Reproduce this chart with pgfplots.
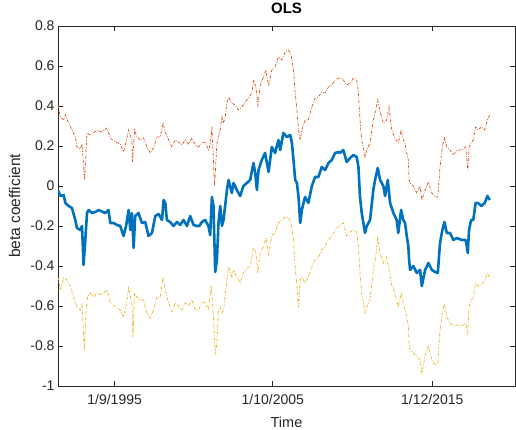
\documentclass[border=0pt]{standalone}
\usepackage{pgfplots}
\pgfplotsset{compat=1.18}
\usepackage{fontspec}
\setmainfont{Liberation Sans}
\definecolor{mblue}{rgb}{0,0.447,0.741}
\definecolor{morange}{rgb}{0.85,0.325,0.098}
\definecolor{myellow}{rgb}{0.929,0.694,0.125}
\definecolor{maxis}{rgb}{0.15,0.15,0.15}
\begin{document}
\begin{tikzpicture}
\begin{axis}[
  at={(58pt,44pt)}, anchor=south west,
  width=457pt, height=360pt, scale only axis,
  xmin=1992.06, xmax=2021.19, ymin=-1, ymax=0.8,
  xtick={1995.67,2005.75,2015.92},
  xticklabels={1/9/1995,1/10/2005,1/12/2015},
  ytick={-1,-0.8,-0.6,-0.4,-0.2,0,0.2,0.4,0.6,0.8},
  yticklabels={-1,-0.8,-0.6,-0.4,-0.2,0,0.2,0.4,0.6,0.8},
  /pgf/number format/assume math mode=true,
  tick align=inside, tick pos=both,
  major tick length=5pt,
  axis line style={draw=maxis, line width=0.6pt},
  tick style={draw=maxis, line width=0.6pt},
  tick label style={font=\fontsize{14}{16}\selectfont, text=maxis},
  xticklabel style={yshift=-5pt},
  title={\textbf{OLS}},
  title style={font=\fontsize{15}{17}\selectfont, at={(axis description cs:0.5,1.031)}, anchor=center},
  xlabel={Time},
  xlabel style={font=\fontsize{14.5}{16}\selectfont, text=maxis, at={(axis description cs:0.5,-0.1)}, anchor=center},
  ylabel={beta coefficient},
  ylabel style={font=\fontsize{15.5}{17}\selectfont, text=maxis, at={(axis description cs:-0.095,0.5)}, anchor=center, rotate=0},
]
\addplot[morange, line width=0.7pt, dash pattern=on 3pt off 1.5pt on 0.8pt off 1.5pt] coordinates {
(1992.06,0.405)(1992.21,0.345)(1992.42,0.33)(1992.53,0.355)(1992.74,0.315)(1992.95,0.28)(1993.16,0.245)(1993.27,0.195)(1993.48,0.185)(1993.59,0.21)(1993.76,0.03)(1993.84,0.165)(1993.91,0.265)(1994.12,0.255)(1994.33,0.265)(1994.54,0.28)(1994.86,0.27)(1995.18,0.29)(1995.39,0.24)(1995.71,0.22)(1996.03,0.21)(1996.24,0.17)(1996.40,0.22)(1996.56,0.28)(1996.77,0.23)(1996.81,0.12)(1996.94,0.28)(1997.09,0.245)(1997.30,0.23)(1997.51,0.24)(1997.73,0.195)(1997.94,0.165)(1998.15,0.19)(1998.37,0.245)(1998.58,0.245)(1998.75,0.315)(1998.90,0.27)(1999.11,0.23)(1999.32,0.195)(1999.53,0.23)(1999.74,0.22)(1999.96,0.205)(2000.17,0.23)(2000.38,0.21)(2000.60,0.24)(2000.81,0.205)(2001.02,0.195)(2001.23,0.215)(2001.44,0.22)(2001.65,0.18)(2001.76,0.205)(2001.87,0.295)(2002.04,0.0)(2002.19,0.215)(2002.29,0.245)(2002.40,0.28)(2002.51,0.345)(2002.61,0.315)(2002.72,0.345)(2002.83,0.42)(2002.93,0.445)(2003.14,0.415)(2003.35,0.405)(2003.56,0.38)(2003.78,0.395)(2003.99,0.42)(2004.20,0.44)(2004.42,0.465)(2004.52,0.53)(2004.67,0.495)(2004.80,0.405)(2004.95,0.505)(2005.16,0.545)(2005.31,0.58)(2005.48,0.50)(2005.69,0.58)(2005.90,0.595)(2006.11,0.645)(2006.33,0.63)(2006.54,0.67)(2006.75,0.68)(2006.92,0.655)(2007.07,0.58)(2007.18,0.465)(2007.29,0.38)(2007.39,0.28)(2007.50,0.23)(2007.60,0.28)(2007.81,0.33)(2008.02,0.33)(2008.24,0.395)(2008.45,0.44)(2008.66,0.445)(2008.87,0.47)(2009.09,0.465)(2009.30,0.495)(2009.51,0.505)(2009.72,0.53)(2009.97,0.54)(2010.04,0.54)(2010.25,0.53)(2010.46,0.505)(2010.68,0.515)(2010.89,0.54)(2011.10,0.53)(2011.21,0.465)(2011.31,0.33)(2011.42,0.23)(2011.63,0.145)(2011.74,0.18)(2011.95,0.215)(2012.16,0.33)(2012.31,0.38)(2012.44,0.43)(2012.59,0.37)(2012.80,0.315)(2013.01,0.33)(2013.16,0.395)(2013.33,0.28)(2013.54,0.24)(2013.75,0.215)(2013.93,0.28)(2014.07,0.23)(2014.18,0.215)(2014.29,0.165)(2014.39,0.13)(2014.44,0.03)(2014.50,0.015)(2014.71,0.0)(2014.93,-0.035)(2015.14,0.0)(2015.25,-0.07)(2015.46,-0.02)(2015.67,0.02)(2015.89,-0.035)(2016.10,-0.055)(2016.27,-0.055)(2016.41,0.095)(2016.56,0.195)(2016.69,0.24)(2016.84,0.195)(2017.05,0.18)(2017.26,0.155)(2017.48,0.18)(2017.80,0.18)(2018.05,0.195)(2018.18,0.08)(2018.26,0.195)(2018.39,0.215)(2018.53,0.23)(2018.68,0.295)(2018.83,0.28)(2019.05,0.295)(2019.26,0.28)(2019.43,0.33)(2019.58,0.355)
};
\addplot[mblue, line width=2.6pt, line join=round] coordinates {
(1992.06,-0.02)(1992.21,-0.05)(1992.42,-0.045)(1992.53,-0.085)(1992.74,-0.10)(1992.95,-0.11)(1993.16,-0.17)(1993.27,-0.21)(1993.48,-0.22)(1993.59,-0.20)(1993.69,-0.395)(1993.80,-0.27)(1993.91,-0.135)(1994.01,-0.12)(1994.23,-0.135)(1994.44,-0.13)(1994.65,-0.12)(1995.07,-0.135)(1995.28,-0.12)(1995.39,-0.185)(1995.60,-0.185)(1995.82,-0.195)(1996.03,-0.20)(1996.24,-0.25)(1996.40,-0.20)(1996.56,-0.12)(1996.67,-0.22)(1996.77,-0.135)(1996.88,-0.31)(1996.98,-0.15)(1997.19,-0.135)(1997.41,-0.185)(1997.62,-0.18)(1997.83,-0.25)(1998.05,-0.235)(1998.26,-0.15)(1998.47,-0.14)(1998.69,-0.17)(1998.79,-0.07)(1998.90,-0.085)(1999.00,-0.17)(1999.21,-0.18)(1999.42,-0.20)(1999.64,-0.18)(1999.85,-0.195)(2000.06,-0.17)(2000.28,-0.20)(2000.49,-0.15)(2000.70,-0.195)(2000.91,-0.20)(2001.06,-0.20)(2001.23,-0.18)(2001.44,-0.17)(2001.65,-0.20)(2001.76,-0.245)(2001.87,-0.055)(2001.97,-0.10)(2002.08,-0.43)(2002.19,-0.37)(2002.29,-0.185)(2002.40,-0.10)(2002.51,-0.20)(2002.61,-0.17)(2002.83,-0.02)(2002.93,0.03)(2003.14,-0.035)(2003.25,0.015)(2003.46,-0.02)(2003.67,-0.05)(2003.88,0.0)(2004.10,0.015)(2004.31,0.03)(2004.52,0.115)(2004.63,0.065)(2004.74,-0.02)(2004.84,0.08)(2005.05,0.13)(2005.26,0.165)(2005.48,0.07)(2005.69,0.195)(2005.90,0.165)(2006.11,0.23)(2006.22,0.18)(2006.43,0.265)(2006.65,0.245)(2006.86,0.255)(2006.97,0.215)(2007.07,0.13)(2007.18,0.03)(2007.29,0.015)(2007.39,-0.055)(2007.50,-0.185)(2007.60,-0.12)(2007.81,-0.055)(2008.02,-0.085)(2008.24,0.0)(2008.45,0.045)(2008.66,0.045)(2008.87,0.095)(2009.09,0.08)(2009.30,0.115)(2009.51,0.13)(2009.72,0.165)(2009.97,0.17)(2010.04,0.165)(2010.25,0.18)(2010.46,0.12)(2010.68,0.14)(2010.89,0.155)(2011.10,0.145)(2011.21,0.095)(2011.31,-0.055)(2011.42,-0.135)(2011.63,-0.235)(2011.74,-0.20)(2011.95,-0.17)(2012.16,-0.02)(2012.27,0.03)(2012.44,0.09)(2012.59,0.03)(2012.80,0.0)(2012.91,-0.05)(2013.08,0.03)(2013.23,-0.085)(2013.44,-0.135)(2013.65,-0.17)(2013.75,-0.235)(2013.93,-0.12)(2014.07,-0.17)(2014.18,-0.185)(2014.29,-0.25)(2014.39,-0.30)(2014.44,-0.37)(2014.50,-0.42)(2014.71,-0.40)(2014.93,-0.435)(2015.14,-0.42)(2015.25,-0.50)(2015.46,-0.42)(2015.67,-0.385)(2015.89,-0.42)(2016.10,-0.43)(2016.27,-0.435)(2016.41,-0.285)(2016.56,-0.22)(2016.69,-0.18)(2016.84,-0.235)(2017.05,-0.235)(2017.26,-0.27)(2017.48,-0.26)(2017.80,-0.27)(2018.05,-0.27)(2018.18,-0.335)(2018.26,-0.22)(2018.39,-0.17)(2018.53,-0.17)(2018.68,-0.085)(2018.83,-0.085)(2019.05,-0.10)(2019.26,-0.085)(2019.43,-0.05)(2019.58,-0.07)
};
\addplot[myellow, line width=0.7pt, dash pattern=on 3pt off 1.5pt on 0.8pt off 1.5pt] coordinates {
(1992.06,-0.455)(1992.21,-0.52)(1992.42,-0.46)(1992.63,-0.47)(1992.84,-0.50)(1993.05,-0.555)(1993.27,-0.605)(1993.48,-0.62)(1993.59,-0.595)(1993.74,-0.82)(1993.84,-0.635)(1993.95,-0.555)(1994.12,-0.535)(1994.33,-0.555)(1994.54,-0.535)(1994.86,-0.545)(1995.18,-0.52)(1995.39,-0.585)(1995.71,-0.605)(1996.03,-0.62)(1996.24,-0.655)(1996.40,-0.60)(1996.56,-0.51)(1996.77,-0.585)(1996.84,-0.755)(1996.94,-0.535)(1997.09,-0.555)(1997.30,-0.57)(1997.51,-0.57)(1997.73,-0.635)(1997.94,-0.66)(1998.15,-0.62)(1998.37,-0.555)(1998.58,-0.555)(1998.75,-0.455)(1998.90,-0.52)(1999.11,-0.585)(1999.32,-0.63)(1999.53,-0.585)(1999.74,-0.60)(1999.96,-0.62)(2000.17,-0.585)(2000.38,-0.60)(2000.60,-0.57)(2000.81,-0.62)(2001.02,-0.62)(2001.23,-0.585)(2001.44,-0.58)(2001.65,-0.62)(2001.83,-0.50)(2001.97,-0.655)(2002.08,-0.835)(2002.19,-0.785)(2002.29,-0.62)(2002.40,-0.605)(2002.51,-0.635)(2002.61,-0.62)(2002.83,-0.47)(2002.93,-0.405)(2003.14,-0.455)(2003.25,-0.42)(2003.46,-0.455)(2003.67,-0.485)(2003.88,-0.435)(2004.10,-0.41)(2004.31,-0.405)(2004.52,-0.305)(2004.67,-0.335)(2004.80,-0.435)(2004.95,-0.335)(2005.16,-0.305)(2005.31,-0.26)(2005.48,-0.34)(2005.69,-0.25)(2005.90,-0.235)(2006.11,-0.185)(2006.33,-0.17)(2006.54,-0.155)(2006.75,-0.16)(2006.92,-0.185)(2007.07,-0.27)(2007.18,-0.405)(2007.29,-0.50)(2007.39,-0.605)(2007.50,-0.47)(2007.60,-0.455)(2007.81,-0.485)(2008.02,-0.455)(2008.24,-0.405)(2008.45,-0.37)(2008.66,-0.355)(2008.87,-0.32)(2009.09,-0.30)(2009.30,-0.27)(2009.51,-0.25)(2009.72,-0.22)(2009.97,-0.20)(2010.25,-0.185)(2010.46,-0.25)(2010.68,-0.23)(2010.89,-0.22)(2011.10,-0.23)(2011.21,-0.305)(2011.31,-0.435)(2011.42,-0.535)(2011.63,-0.635)(2011.74,-0.605)(2011.95,-0.57)(2012.16,-0.42)(2012.31,-0.355)(2012.44,-0.26)(2012.59,-0.335)(2012.80,-0.385)(2013.01,-0.355)(2013.16,-0.42)(2013.33,-0.50)(2013.54,-0.535)(2013.75,-0.605)(2013.93,-0.535)(2014.07,-0.585)(2014.29,-0.655)(2014.39,-0.70)(2014.44,-0.785)(2014.50,-0.82)(2014.71,-0.835)(2014.93,-0.85)(2015.14,-0.87)(2015.25,-0.935)(2015.46,-0.85)(2015.67,-0.80)(2015.89,-0.87)(2016.10,-0.895)(2016.27,-0.885)(2016.41,-0.72)(2016.56,-0.635)(2016.69,-0.585)(2016.84,-0.655)(2017.05,-0.685)(2017.26,-0.70)(2017.48,-0.695)(2017.80,-0.70)(2018.05,-0.685)(2018.18,-0.735)(2018.26,-0.605)(2018.39,-0.57)(2018.53,-0.56)(2018.68,-0.485)(2018.83,-0.50)(2019.05,-0.495)(2019.26,-0.475)(2019.43,-0.435)(2019.58,-0.46)
};
\end{axis}
\pgfresetboundingbox
\path[use as bounding box] (0,0) rectangle (516pt,430pt);
\end{tikzpicture}
\end{document}
